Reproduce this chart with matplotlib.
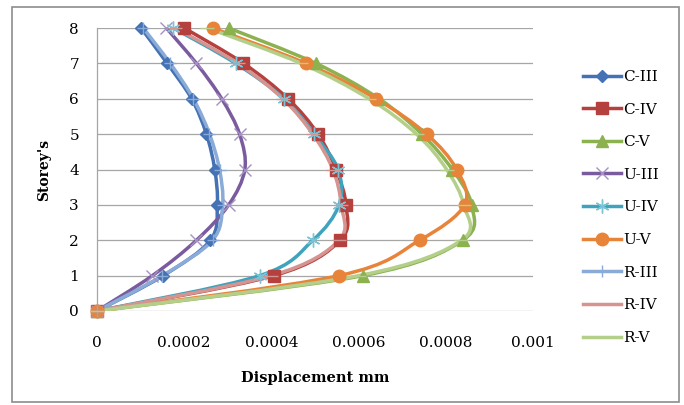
"""
Storey displacement profiles (C / U / R models, zones III-V).
Recreates an Excel-style smoothed line chart.
"""

import numpy as np
import matplotlib
matplotlib.use("Agg")
import matplotlib.pyplot as plt
from matplotlib.path import Path
from matplotlib.patches import PathPatch, Rectangle
from matplotlib.lines import Line2D

plt.rcParams["font.family"] = ["DejaVu Serif"]

# storey levels
storeys = [0, 1, 2, 3, 4, 5, 6, 7, 8]

# displacement (mm) per storey
C_III = [0, 0.000152, 0.000260, 0.000276, 0.000270, 0.000251, 0.000217, 0.000161, 0.000101]
C_IV = [0, 0.000406, 0.000558, 0.000571, 0.000548, 0.000507, 0.000438, 0.000336, 0.000200]
C_V = [0, 0.000610, 0.000839, 0.000859, 0.000815, 0.000745, 0.000647, 0.000502, 0.000302]
U_III = [0, 0.000127, 0.000228, 0.000302, 0.000339, 0.000327, 0.000286, 0.000228, 0.000159]
U_IV = [0, 0.000373, 0.000495, 0.000555, 0.000553, 0.000498, 0.000429, 0.000318, 0.000175]
U_V = [0, 0.000555, 0.000740, 0.000843, 0.000825, 0.000756, 0.000640, 0.000479, 0.000265]
R_III = [0, 0.000150, 0.000265, 0.000288, 0.000281, 0.000258, 0.000221, 0.000168, 0.000106]
R_IV = [0, 0.000400, 0.000555, 0.000560, 0.000541, 0.000495, 0.000426, 0.000323, 0.000180]
R_V = [0, 0.000600, 0.000836, 0.000841, 0.000802, 0.000733, 0.000624, 0.000468, 0.000253]

labels = ["C-III", "C-IV", "C-V", "U-III", "U-IV", "U-V", "R-III", "R-IV", "R-V"]
x_ticks = [0, 0.0002, 0.0004, 0.0006, 0.0008, 0.001]
x_tick_labels = ["0", "0.0002", "0.0004", "0.0006", "0.0008", "0.001"]

# (colour, marker, marker size, marker colour)
styles = [
    ("#4472B4", "D", 6, "#4472B4"),
    ("#B5413E", "s", 8, "#B5413E"),
    ("#8CB24F", "^", 8, "#8CB24F"),
    ("#7A5C9E", "x", 9, "#A690C4"),
    ("#40A3BD", (6, 2, 0), 10, "#7CC3D6"),
    ("#E8843A", "o", 9, "#E8843A"),
    ("#8AAAD8", "+", 9, "#8AAAD8"),
    ("#D69490", "_", 10, "#D69490"),
    ("#B3CF8A", "_", 10, "#B3CF8A"),
]


def smooth_path(x, y):
    """Bezier path through the points, like Excel's 'smoothed line'."""
    pts = np.column_stack([x, y]).astype(float)
    n = len(pts)
    verts = [pts[0]]
    codes = [Path.MOVETO]
    for i in range(n - 1):
        p0 = pts[max(i - 1, 0)]
        p1 = pts[i]
        p2 = pts[i + 1]
        p3 = pts[min(i + 2, n - 1)]
        verts += [p1 + (p2 - p0) / 6, p2 - (p3 - p1) / 6, p2]
        codes += [Path.CURVE4] * 3
    return Path(verts, codes)


fig = plt.figure(figsize=(6.84, 4.05), dpi=100)
ax = fig.add_axes([97 / 684, 94 / 405, 436 / 684, 283 / 405])

series = [C_III, C_IV, C_V, U_III, U_IV, U_V, R_III, R_IV, R_V]
handles = []
for vals, lab, (col, mk, ms, mcol) in zip(series, labels, styles):
    patch = PathPatch(smooth_path(vals, storeys), facecolor="none", edgecolor=col,
                      linewidth=2.5, capstyle="round", joinstyle="round", zorder=3)
    ax.add_patch(patch)
    ax.plot(vals, storeys, linestyle="none", marker=mk, markersize=ms,
            color=mcol, markeredgecolor=mcol, markeredgewidth=1.0,
            clip_on=False, zorder=4)
    handles.append(Line2D([], [], color=col, linewidth=2.5, marker=mk,
                          markersize=ms, markerfacecolor=mcol,
                          markeredgecolor=mcol, markeredgewidth=1.0))

ax.set_xlim(0, 0.001)
ax.set_ylim(0, 8)
ax.set_xticks(x_ticks)
ax.set_xticklabels(x_tick_labels)
ax.set_yticks(storeys)
ax.tick_params(axis="both", length=0, labelsize=11)
ax.tick_params(axis="x", pad=18)
ax.tick_params(axis="y", pad=13)

ax.grid(axis="y", color="#A6A6A6", linewidth=0.9)
ax.set_axisbelow(True)
for side in ["top", "right", "bottom"]:
    ax.spines[side].set_visible(False)
ax.spines["left"].set_color("#A6A6A6")
ax.spines["left"].set_linewidth(0.9)

ax.set_xlabel("Displacement mm", fontsize=10.5, fontweight="bold", labelpad=15)
ax.set_ylabel("Storey's", fontsize=10, fontweight="bold", labelpad=13)

fig.legend(handles, labels, loc="center left", bbox_to_anchor=(583 / 684, 0.4877),
           frameon=False, fontsize=11, handlelength=2.5, handletextpad=0.15,
           labelspacing=1.22, borderpad=0, borderaxespad=0)

# chart area border
fig.add_artist(Rectangle((12 / 684, 3 / 405), 667 / 684, 395 / 405,
                         transform=fig.transFigure, fill=False,
                         edgecolor="#8C8C8C", linewidth=1.2))

fig.savefig("out.png", dpi=100, facecolor="white")
